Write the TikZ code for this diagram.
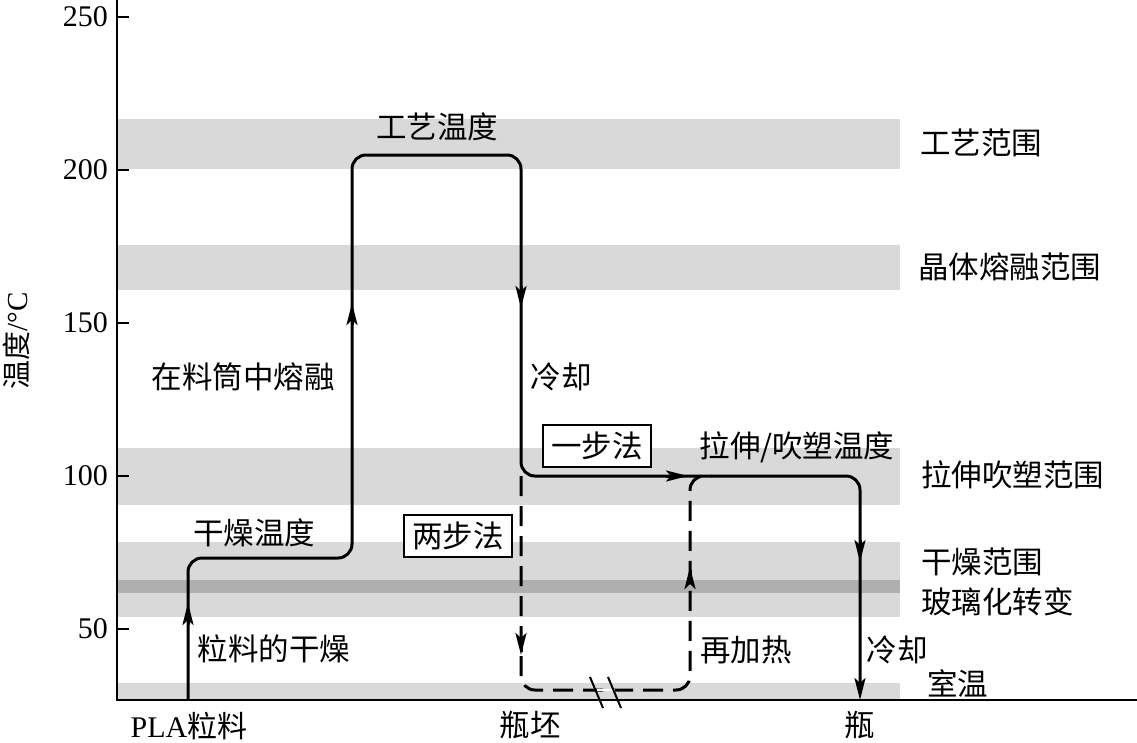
\documentclass[tikz,border=0pt]{standalone}
\usepackage{fontspec}
\setmainfont{Liberation Serif}
\newfontfamily\cjk{Noto Sans CJK SC}
\usetikzlibrary{arrows.meta}
\definecolor{bandlight}{HTML}{D9D9D9}
\definecolor{banddark}{HTML}{AFAFAF}
\tikzset{
  txt/.style={font=\fontsize{30.5}{34}\selectfont\cjk, inner sep=0pt},
  num/.style={font=\fontsize{30}{34}\selectfont, inner sep=0pt, anchor=east},
  band/.style={fill=bandlight, draw=none},
  curve/.style={line width=3pt, rounded corners=14pt},
  dashcurve/.style={line width=3pt, rounded corners=14pt, dash pattern=on 20pt off 10pt},
  arr/.style={line width=3pt, -{Stealth[length=22pt, width=11pt, inset=5pt]}},
  boxlbl/.style={txt, draw, line width=2.5pt, minimum width=108pt, minimum height=42pt}
}
\begin{document}
\begin{tikzpicture}[x=1pt, y=-1pt]
\useasboundingbox (0,0) rectangle (1137,742);
% bands
\fill[band] (117,119) rectangle (900,169);
\fill[band] (117,245) rectangle (900,290);
\fill[band] (117,448) rectangle (900,505);
\fill[band] (117,542) rectangle (900,617);
\fill[banddark] (117,580) rectangle (900,593);
\fill[band] (117,683) rectangle (900,700);
% axes
\draw[line width=2pt] (117,0) -- (117,700) -- (1137,700);
\foreach \v/\yy in {250/17,200/170,150/323,100/476,50/629}{
  \draw[line width=2pt] (117,\yy) -- (129,\yy);
  \node[num] (t\v) at (108,\yy) {\v};
}
\node[font=\fontsize{29}{34}\selectfont, inner sep=0pt, rotate=90] (ylab) at (16,341) {{\cjk 温度}/°C};
% band labels
\node[txt, anchor=west] (l1) at (920,143) {工艺范围};
\node[txt, anchor=west] (l2) at (918,267) {晶体熔融范围};
\node[txt, anchor=west] (l3) at (921,475) {拉伸吹塑范围};
\node[txt, anchor=west] (l4) at (921,562) {干燥范围};
\node[txt, anchor=west] (l5) at (921,602) {玻璃化转变};
\node[txt, anchor=west] (l6) at (927,683) {室温};
% solid curve
\coordinate (s0) at (188,700);
\coordinate (s1) at (188,558);
\coordinate (s2) at (352,558);
\coordinate (s3) at (352,155);
\coordinate (s4) at (521,155);
\coordinate (s5) at (521,476);
\coordinate (s6) at (860,476);
\coordinate (s7) at (860,700);
\draw[curve, -{Stealth[length=22pt, width=11pt, inset=5pt]}] (s0) -- (s1) -- (s2) -- (s3) -- (s4) -- (s5) -- (s6) -- (s7);
% dashed curve
\coordinate (d1) at (521,690);
\coordinate (d2) at (690,690);
\coordinate (d3) at (690,476);
\coordinate (d4) at (712,476);
\draw[dashcurve] (s5) -- (d1) -- (d2) -- (d3) -- (d4);
% mid arrows
\draw[arr] (188,625) -- (188,603);
\draw[arr] (352,325) -- (352,303);
\draw[arr] (521,286) -- (521,308);
\draw[arr] (666,476) -- (688,476);
\draw[arr] (860,540) -- (860,562);
\draw[arr] (521,652) -- (521,655);
\draw[arr] (690,570) -- (690,567);
% break mark
\draw[line width=2pt, white] (597,690) -- (615,690);
\draw[line width=2pt] (590,677) -- (603,708);
\draw[line width=2pt] (608,677) -- (621,708);
% labels
\node[txt] (n1) at (437,127) {工艺温度};
\node[txt] (n2) at (243,377) {在料筒中熔融};
\node[txt] (n3) at (561,377) {冷却};
\node[txt] (n4) at (254,533) {干燥温度};
\node[txt] (n5) at (274,649) {粒料的干燥};
\node[font=\fontsize{30}{34}\selectfont, inner sep=0pt] (n6) at (189,726) {PLA{\cjk 粒料}};
\node[txt] (n7) at (530,725) {瓶坯};
\node[txt] (n8) at (860,725) {瓶};
\node[txt] (n9) at (797,447) {拉伸/吹塑温度};
\node[txt] (n10) at (746,650) {再加热};
\node[txt] (n11) at (897,650) {冷却};
\node[boxlbl, fill=white] (b1) at (597,446) {一步法};
\node[boxlbl, fill=white] (b2) at (458,536) {两步法};
\end{tikzpicture}
\end{document}
